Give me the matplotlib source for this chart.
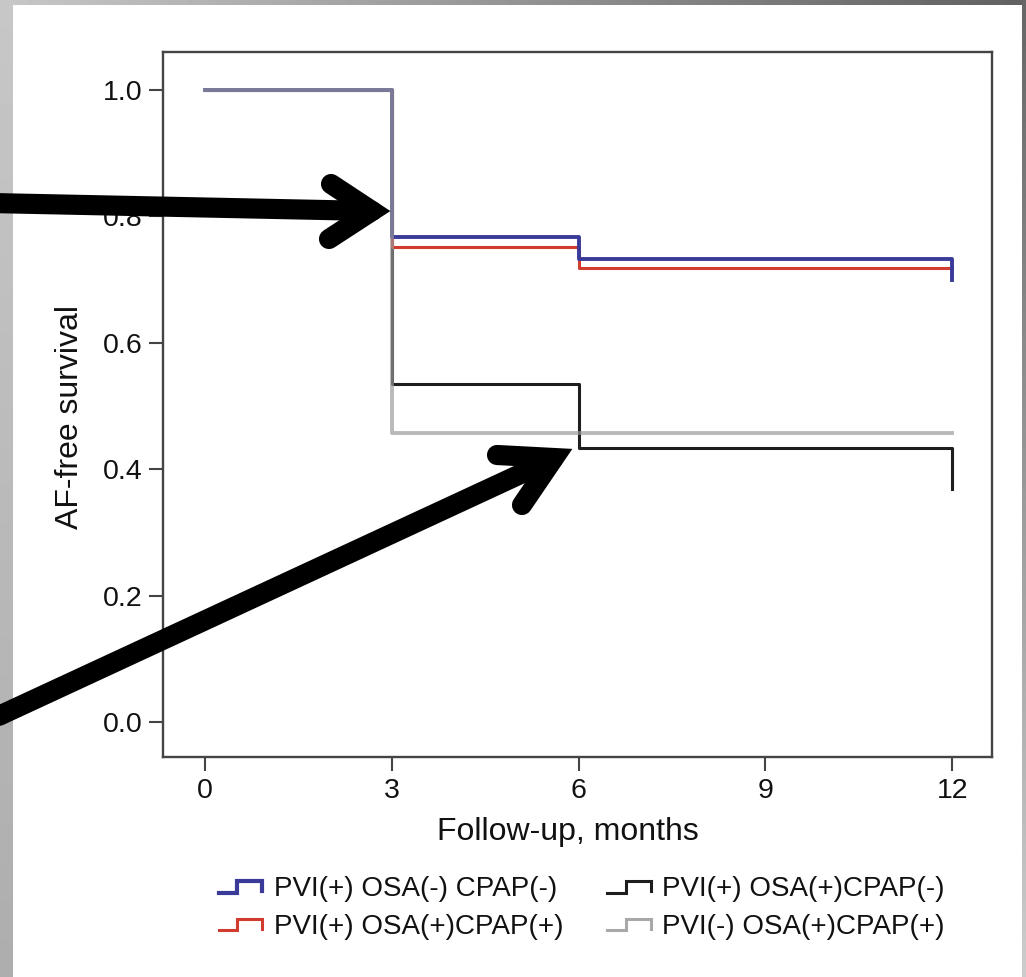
import matplotlib
matplotlib.use("Agg")
import matplotlib.pyplot as plt
import numpy as np
from matplotlib.lines import Line2D
from matplotlib.legend_handler import HandlerBase

plt.rcParams['font.family'] = ['Liberation Sans', 'DejaVu Sans']

# ---------------- data ----------------
months = [0, 3, 6, 12]
labels = ["PVI(+) OSA(-) CPAP(-)", "PVI(+) OSA(+)CPAP(+)",
          "PVI(+) OSA(+)CPAP(-)", "PVI(-) OSA(+)CPAP(+)"]
surv_blue = [1.0, 0.768, 0.732, 0.732]
surv_red = [1.0, 0.752, 0.719, 0.719]
surv_black = [1.0, 0.535, 0.434, 0.434]
surv_gray = [1.0, 0.457, 0.457, 0.457]
end_blue = 0.700      # last drop at 12 months
end_black = 0.369     # last drop at 12 months
xticks = [0, 3, 6, 9, 12]
yticks = [0.0, 0.2, 0.4, 0.6, 0.8, 1.0]

W, H = 1026, 977
fig = plt.figure(figsize=(W / 100, H / 100), dpi=100)
fig.patch.set_facecolor("white")

# ---------------- frame (background) ----------------
bg = fig.add_axes([0, 0, 1, 1], zorder=-5)
bg.axis("off")
top_grad = np.linspace(0.78, 0.38, 256)[None, :]
bg.imshow(top_grad, cmap="gray", vmin=0, vmax=1, extent=(0, W, 5, 0), aspect="auto")
left_grad = np.linspace(0.78, 0.68, 256)[:, None]
bg.imshow(left_grad, cmap="gray", vmin=0, vmax=1, extent=(0, 13, H, 0), aspect="auto")
right_grad = np.linspace(0.40, 0.80, 256)[:, None]
bg.imshow(right_grad, cmap="gray", vmin=0, vmax=1, extent=(1022, W, H, 0), aspect="auto")
bg.set_xlim(0, W)
bg.set_ylim(H, 0)

# ---------------- main axes ----------------
ax = fig.add_axes([163 / W, 1 - 757 / H, (992 - 163) / W, (757 - 52) / H])
ax.set_facecolor("white")

c_blue = "#3a3a98"
c_red = "#d23b2f"
c_black = "#1e1e1e"
c_gray = (0.60, 0.60, 0.60)

ax.step(months + [12], surv_black + [end_black], where="post", color=c_black, lw=2.2, zorder=3)
ax.step(months, surv_red, where="post", color=c_red, lw=2.2, zorder=4)
ax.step(months + [12], surv_blue + [end_blue], where="post", color=c_blue, lw=2.8, zorder=5)
ax.step(months, surv_gray, where="post", color=c_gray, lw=2.8, alpha=0.68, zorder=6)

ax.set_xlim(-0.675, 12.64)
ax.set_ylim(-0.055, 1.06)
ax.set_xticks(xticks)
ax.set_xticklabels([str(t) for t in xticks])
ax.set_yticks(yticks)
ax.set_yticklabels([f"{t:.1f}" for t in yticks])

spine_c = "#444444"
for s in ax.spines.values():
    s.set_color(spine_c)
    s.set_linewidth(1.7)
ax.tick_params(direction="out", length=10, width=1.5, color=spine_c,
               labelsize=20.5, pad=5, labelcolor="#111111")

ax.set_xlabel("Follow-up, months", fontsize=23, color="#111111")
ax.set_ylabel("AF-free survival", fontsize=23, color="#111111")
ax.xaxis.set_label_coords(0.4885, -0.085)
ax.yaxis.set_label_coords(-0.112, 0.482)
ax.yaxis.label.set_verticalalignment("center")


# ---------------- legend with step-shaped handles ----------------
class StepHandler(HandlerBase):
    def create_artists(self, legend, orig_handle, xdescent, ydescent,
                       width, height, fontsize, trans):
        xs = np.array([0.0, 0.42, 0.42, 1.0, 1.0]) * width - xdescent
        ys = np.array([0.05, 0.05, 0.85, 0.85, 0.15]) * height - ydescent
        ln = Line2D(xs, ys, color=orig_handle.get_color(),
                    lw=orig_handle.get_linewidth(), solid_joinstyle="miter")
        ln.set_transform(trans)
        return [ln]


handles = [Line2D([], [], color=c_blue, lw=3.0),
           Line2D([], [], color=c_red, lw=2.2),
           Line2D([], [], color=c_black, lw=2.2),
           Line2D([], [], color="#a8a8a8", lw=2.2)]
leg = fig.legend(handles, labels, ncol=2, loc="upper center",
                 bbox_to_anchor=(0.567, 1 - 851 / H), frameon=False,
                 fontsize=20, handlelength=1.55, handleheight=0.45,
                 handletextpad=0.4, columnspacing=1.6, labelspacing=0.42,
                 handler_map={Line2D: StepHandler()})
for t in leg.get_texts():
    t.set_color("#111111")

# ---------------- overlay arrows (annotation) ----------------
ov = fig.add_axes([0, 0, 1, 1], zorder=10)
ov.set_xlim(0, W)
ov.set_ylim(H, 0)
ov.axis("off")
ov.patch.set_alpha(0)

lw_arrow = 14.5
# arrow 1
ov.plot([-10, 372], [203, 211], color="black", lw=lw_arrow, solid_capstyle="round")
ov.plot([331, 372, 329], [184, 211, 239], color="black", lw=lw_arrow,
        solid_capstyle="round", solid_joinstyle="miter")
# arrow 2
ov.plot([-10, 553], [720, 459], color="black", lw=lw_arrow, solid_capstyle="round")
ov.plot([497, 554, 522], [455, 458, 505], color="black", lw=lw_arrow,
        solid_capstyle="round", solid_joinstyle="miter")

fig.savefig("out.png", dpi=100)
